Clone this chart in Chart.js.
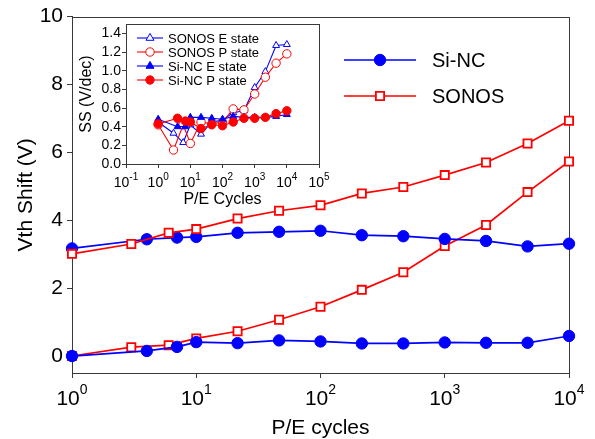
<!DOCTYPE html>
<html><head><meta charset="utf-8">
<script src="https://cdn.jsdelivr.net/npm/chart.js@4.4.1/dist/chart.umd.min.js"></script>
<style>
html,body{margin:0;padding:0;background:#fff;}
#wrap{position:relative;width:595px;height:439px;overflow:hidden;}
#main{position:absolute;left:0;top:0;}
#inset{position:absolute;left:60px;top:0;}
</style></head><body>
<div id="wrap"><canvas id="main" width="595" height="439"></canvas><canvas id="inset" width="280" height="215"></canvas></div>
<script>
// ---------- data ----------
const cyclesSiNC  = [1, 4, 7, 10, 21.5, 46.4, 100, 215, 464, 1000, 2150, 4640, 10000];
const cyclesSONOS = [1, 3, 6, 10, 21.5, 46.4, 100, 215, 464, 1000, 2150, 4640, 10000];

const siNcUpper  = [3.17, 3.44, 3.49, 3.51, 3.63, 3.66, 3.69, 3.56, 3.53, 3.45, 3.39, 3.23, 3.31];
const siNcLower  = [0.00, 0.15, 0.27, 0.41, 0.38, 0.46, 0.43, 0.37, 0.37, 0.40, 0.39, 0.39, 0.59];
const sonosUpper = [3.01, 3.30, 3.63, 3.74, 4.05, 4.28, 4.44, 4.79, 4.98, 5.33, 5.70, 6.26, 6.93];
const sonosLower = [0.00, 0.26, 0.32, 0.52, 0.73, 1.07, 1.45, 1.95, 2.47, 3.24, 3.86, 4.83, 5.73];

// inset: subthreshold swing (V/dec)
const ssSonosE = [0.45, 0.33, 0.23, 0.42, 0.32, 0.45, 0.47, 0.55, 0.57, 0.82, 0.99, 1.27, 1.28];
const ssSonosP = [0.42, 0.15, 0.42, 0.22, 0.45, 0.43, 0.45, 0.59, 0.58, 0.75, 0.93, 1.08, 1.18];
const ssSiNcE  = [0.48, 0.40, 0.40, 0.50, 0.50, 0.49, 0.48, 0.51, 0.50, 0.50, 0.50, 0.51, 0.53];
const ssSiNcP  = [0.43, 0.49, 0.46, 0.45, 0.38, 0.42, 0.41, 0.45, 0.49, 0.49, 0.50, 0.54, 0.57];

const mainXTicks  = [1, 10, 100, 1000, 10000];
const mainYTicks  = [0, 2, 4, 6, 8, 10];
const insetXTicks = [0.1, 1, 10, 100, 1000, 10000, 100000];
const insetYTicks = [0, 0.2, 0.4, 0.6, 0.8, 1.0, 1.2, 1.4];

const mainLabels  = ['Si-NC', 'SONOS'];
const insetLabels = ['SONOS E state', 'SONOS P state', 'Si-NC E state', 'Si-NC P state'];

// ---------- helpers ----------
const FONT = '"Liberation Sans", Arial, Helvetica, sans-serif';
const AXIS = '#3a3a3a';
const BLUE = '#0000ff';
const RED = '#ff0000';
const pts = (xs, ys) => xs.map((x, i) => ({x: x, y: ys[i]}));

function marker(ctx, style, r, x, y, fill, stroke, bw) {
  ctx.save();
  ctx.fillStyle = fill; ctx.strokeStyle = stroke; ctx.lineWidth = bw;
  ctx.beginPath();
  if (style === 'circle') {
    ctx.arc(x, y, r, 0, Math.PI * 2);
  } else if (style === 'rect') {
    const s = r * Math.SQRT1_2;
    ctx.rect(x - s, y - s, 2 * s, 2 * s);
  } else if (style === 'triangle') {
    ctx.moveTo(x - r * 0.866 * 1.15, y + r * 0.5 * 1.15);
    ctx.lineTo(x, y - r * 1.15);
    ctx.lineTo(x + r * 0.866 * 1.15, y + r * 0.5 * 1.15);
    ctx.closePath();
  }
  ctx.fill(); ctx.stroke();
  ctx.restore();
}

function drawPow(ctx, x, y, exp, baseSize, supSize, rise) {
  ctx.save();
  ctx.fillStyle = '#000';
  ctx.textAlign = 'left'; ctx.textBaseline = 'alphabetic';
  ctx.font = baseSize + 'px ' + FONT;
  const wb = ctx.measureText('10').width;
  ctx.font = supSize + 'px ' + FONT;
  const ws = ctx.measureText(exp).width;
  const x0 = x - (wb + ws) / 2;
  ctx.font = baseSize + 'px ' + FONT;
  ctx.fillText('10', x0, y);
  ctx.font = supSize + 'px ' + FONT;
  ctx.fillText(exp, x0 + wb, y - rise);
  ctx.restore();
}

const framePlugin = {
  id: 'frame',
  beforeDatasetsDraw(chart) {
    const {ctx, chartArea: a} = chart;
    ctx.save();
    ctx.strokeStyle = AXIS; ctx.lineWidth = 1;
    ctx.strokeRect(Math.round(a.left) + 0.5, Math.round(a.top) + 0.5,
                   Math.round(a.right - a.left), Math.round(a.bottom - a.top));
    ctx.restore();
  }
};

const powLabelPlugin = {
  id: 'powLabels',
  afterDraw(chart, args, o) {
    const sc = chart.scales.x;
    o.values.forEach(v => {
      const px = sc.getPixelForValue(v);
      drawPow(chart.ctx, px, o.baseline, String(Math.round(Math.log10(v))), o.base, o.sup, o.rise);
    });
  }
};

const lineLegendPlugin = {
  id: 'lineLegend',
  afterDraw(chart, args, o) {
    const ctx = chart.ctx;
    o.items.forEach(it => {
      const ds = chart.data.datasets[it.index];
      ctx.save();
      ctx.strokeStyle = ds.borderColor; ctx.lineWidth = ds.borderWidth;
      ctx.beginPath(); ctx.moveTo(o.x1, it.y); ctx.lineTo(o.x2, it.y); ctx.stroke();
      ctx.restore();
      marker(ctx, ds.pointStyle, ds.pointRadius, (o.x1 + o.x2) / 2, it.y,
             ds.pointBackgroundColor, ds.pointBorderColor, ds.pointBorderWidth);
      ctx.save();
      ctx.fillStyle = '#000'; ctx.font = o.font + 'px ' + FONT;
      ctx.textAlign = 'left'; ctx.textBaseline = 'middle';
      ctx.fillText(it.text, o.textX, it.y + 1);
      ctx.restore();
    });
  }
};

// ---------- main chart ----------
function mainDs(label, xs, ys, kind) {
  const circle = kind === 'circle';
  return {
    label: label, data: pts(xs, ys),
    borderColor: circle ? BLUE : RED, backgroundColor: circle ? BLUE : RED,
    borderWidth: 1.7,
    pointStyle: circle ? 'circle' : 'rect',
    pointRadius: circle ? 5.7 : 5.8,
    pointHoverRadius: circle ? 5.7 : 5.8,
    pointBackgroundColor: circle ? BLUE : '#ffffff',
    pointBorderColor: circle ? BLUE : RED,
    pointBorderWidth: circle ? 1 : 1.8,
    clip: false, tension: 0
  };
}

new Chart(document.getElementById('main'), {
  type: 'line',
  data: {
    datasets: [
      mainDs(mainLabels[1], cyclesSONOS, sonosUpper, 'rect'),
      mainDs(mainLabels[0], cyclesSiNC, siNcLower, 'circle'),
      mainDs(mainLabels[0], cyclesSiNC, siNcUpper, 'circle'),
      mainDs(mainLabels[1], cyclesSONOS, sonosLower, 'rect')
    ]
  },
  options: {
    responsive: false, animation: false, devicePixelRatio: 1,
    layout: {autoPadding: false, padding: {left: 0, right: 26, top: 15, bottom: 0}},
    plugins: {
      legend: {display: false}, tooltip: {enabled: false},
      powLabels: {values: mainXTicks, baseline: 405, base: 21, sup: 14, rise: 11},
      lineLegend: {x1: 344, x2: 416, textX: 432, font: 20,
        items: [{index: 1, text: mainLabels[0], y: 60}, {index: 0, text: mainLabels[1], y: 96}]}
    },
    scales: {
      x: {
        type: 'logarithmic', min: 1, max: 10000,
        afterBuildTicks: s => { s.ticks = mainXTicks.map(v => ({value: v})); },
        afterFit: s => { s.height = 66; },
        grid: {drawOnChartArea: false, drawTicks: true, tickLength: 5, color: AXIS, tickColor: AXIS},
        border: {display: true, color: AXIS, width: 1},
        ticks: {callback: () => '', autoSkip: false, maxRotation: 0},
        title: {display: true, text: 'P/E cycles', color: '#000',
                font: {family: FONT, size: 21, lineHeight: 1}, padding: {top: 0, bottom: 0}}
      },
      y: {
        type: 'linear', min: -0.5, max: 10,
        afterBuildTicks: s => { s.ticks = mainYTicks.map(v => ({value: v})); },
        afterFit: s => { s.width = 72; },
        grid: {drawOnChartArea: false, drawTicks: true, tickLength: 5, color: AXIS, tickColor: AXIS},
        border: {display: true, color: AXIS, width: 1},
        ticks: {color: '#000', font: {family: FONT, size: 21}, padding: 4, callback: v => String(v)},
        title: {display: true, text: 'Vth Shift (V)', color: '#000',
                font: {family: FONT, size: 21, lineHeight: 1}, padding: {top: 16, bottom: 0}}
      }
    }
  },
  plugins: [framePlugin, powLabelPlugin, lineLegendPlugin]
});

// ---------- inset chart ----------
function insetDs(label, xs, ys, color, style, filled) {
  return {
    label: label, data: pts(xs, ys),
    borderColor: color, backgroundColor: color, borderWidth: 1.1,
    pointStyle: style, pointRadius: style === 'triangle' ? 4 : 4.2,
    pointHoverRadius: 4.2,
    pointBackgroundColor: filled ? color : '#ffffff',
    pointBorderColor: color, pointBorderWidth: 1,
    clip: false, tension: 0
  };
}

new Chart(document.getElementById('inset'), {
  type: 'line',
  data: {
    datasets: [
      insetDs(insetLabels[3], cyclesSiNC, ssSiNcP, RED, 'circle', true),
      insetDs(insetLabels[2], cyclesSiNC, ssSiNcE, BLUE, 'triangle', true),
      insetDs(insetLabels[1], cyclesSONOS, ssSonosP, RED, 'circle', false),
      insetDs(insetLabels[0], cyclesSONOS, ssSonosE, BLUE, 'triangle', false)
    ]
  },
  options: {
    responsive: false, animation: false, devicePixelRatio: 1,
    layout: {autoPadding: false, padding: {left: 0, right: 21, top: 24, bottom: 0}},
    plugins: {
      legend: {display: false}, tooltip: {enabled: false},
      powLabels: {values: insetXTicks, baseline: 187, base: 14, sup: 10, rise: 7},
      lineLegend: {x1: 77, x2: 103, textX: 108, font: 13,
        items: [{index: 3, text: insetLabels[0], y: 38}, {index: 2, text: insetLabels[1], y: 52},
                {index: 1, text: insetLabels[2], y: 66}, {index: 0, text: insetLabels[3], y: 80}]}
    },
    scales: {
      x: {
        type: 'logarithmic', min: 0.1, max: 100000,
        afterBuildTicks: s => { s.ticks = insetXTicks.map(v => ({value: v})); },
        afterFit: s => { s.height = 51; },
        grid: {drawOnChartArea: false, drawTicks: true, tickLength: 4, color: AXIS, tickColor: AXIS},
        border: {display: true, color: AXIS, width: 1},
        ticks: {callback: () => '', autoSkip: false, maxRotation: 0},
        title: {display: true, text: 'P/E Cycles', color: '#000',
                font: {family: FONT, size: 16, lineHeight: 1}, padding: {top: 0, bottom: 7}}
      },
      y: {
        type: 'linear', min: 0, max: 1.5,
        afterBuildTicks: s => { s.ticks = insetYTicks.map(v => ({value: v})); },
        afterFit: s => { s.width = 66; },
        grid: {drawOnChartArea: false, drawTicks: true, tickLength: 4, color: AXIS, tickColor: AXIS},
        border: {display: true, color: AXIS, width: 1},
        ticks: {color: '#000', font: {family: FONT, size: 14}, padding: 1, callback: v => Number(v).toFixed(1)},
        title: {display: true, text: 'SS (V/dec)', color: '#000',
                font: {family: FONT, size: 16, lineHeight: 1}, padding: {top: 18.7, bottom: 0}}
      }
    }
  },
  plugins: [framePlugin, powLabelPlugin, lineLegendPlugin]
});
</script>
</body></html>
